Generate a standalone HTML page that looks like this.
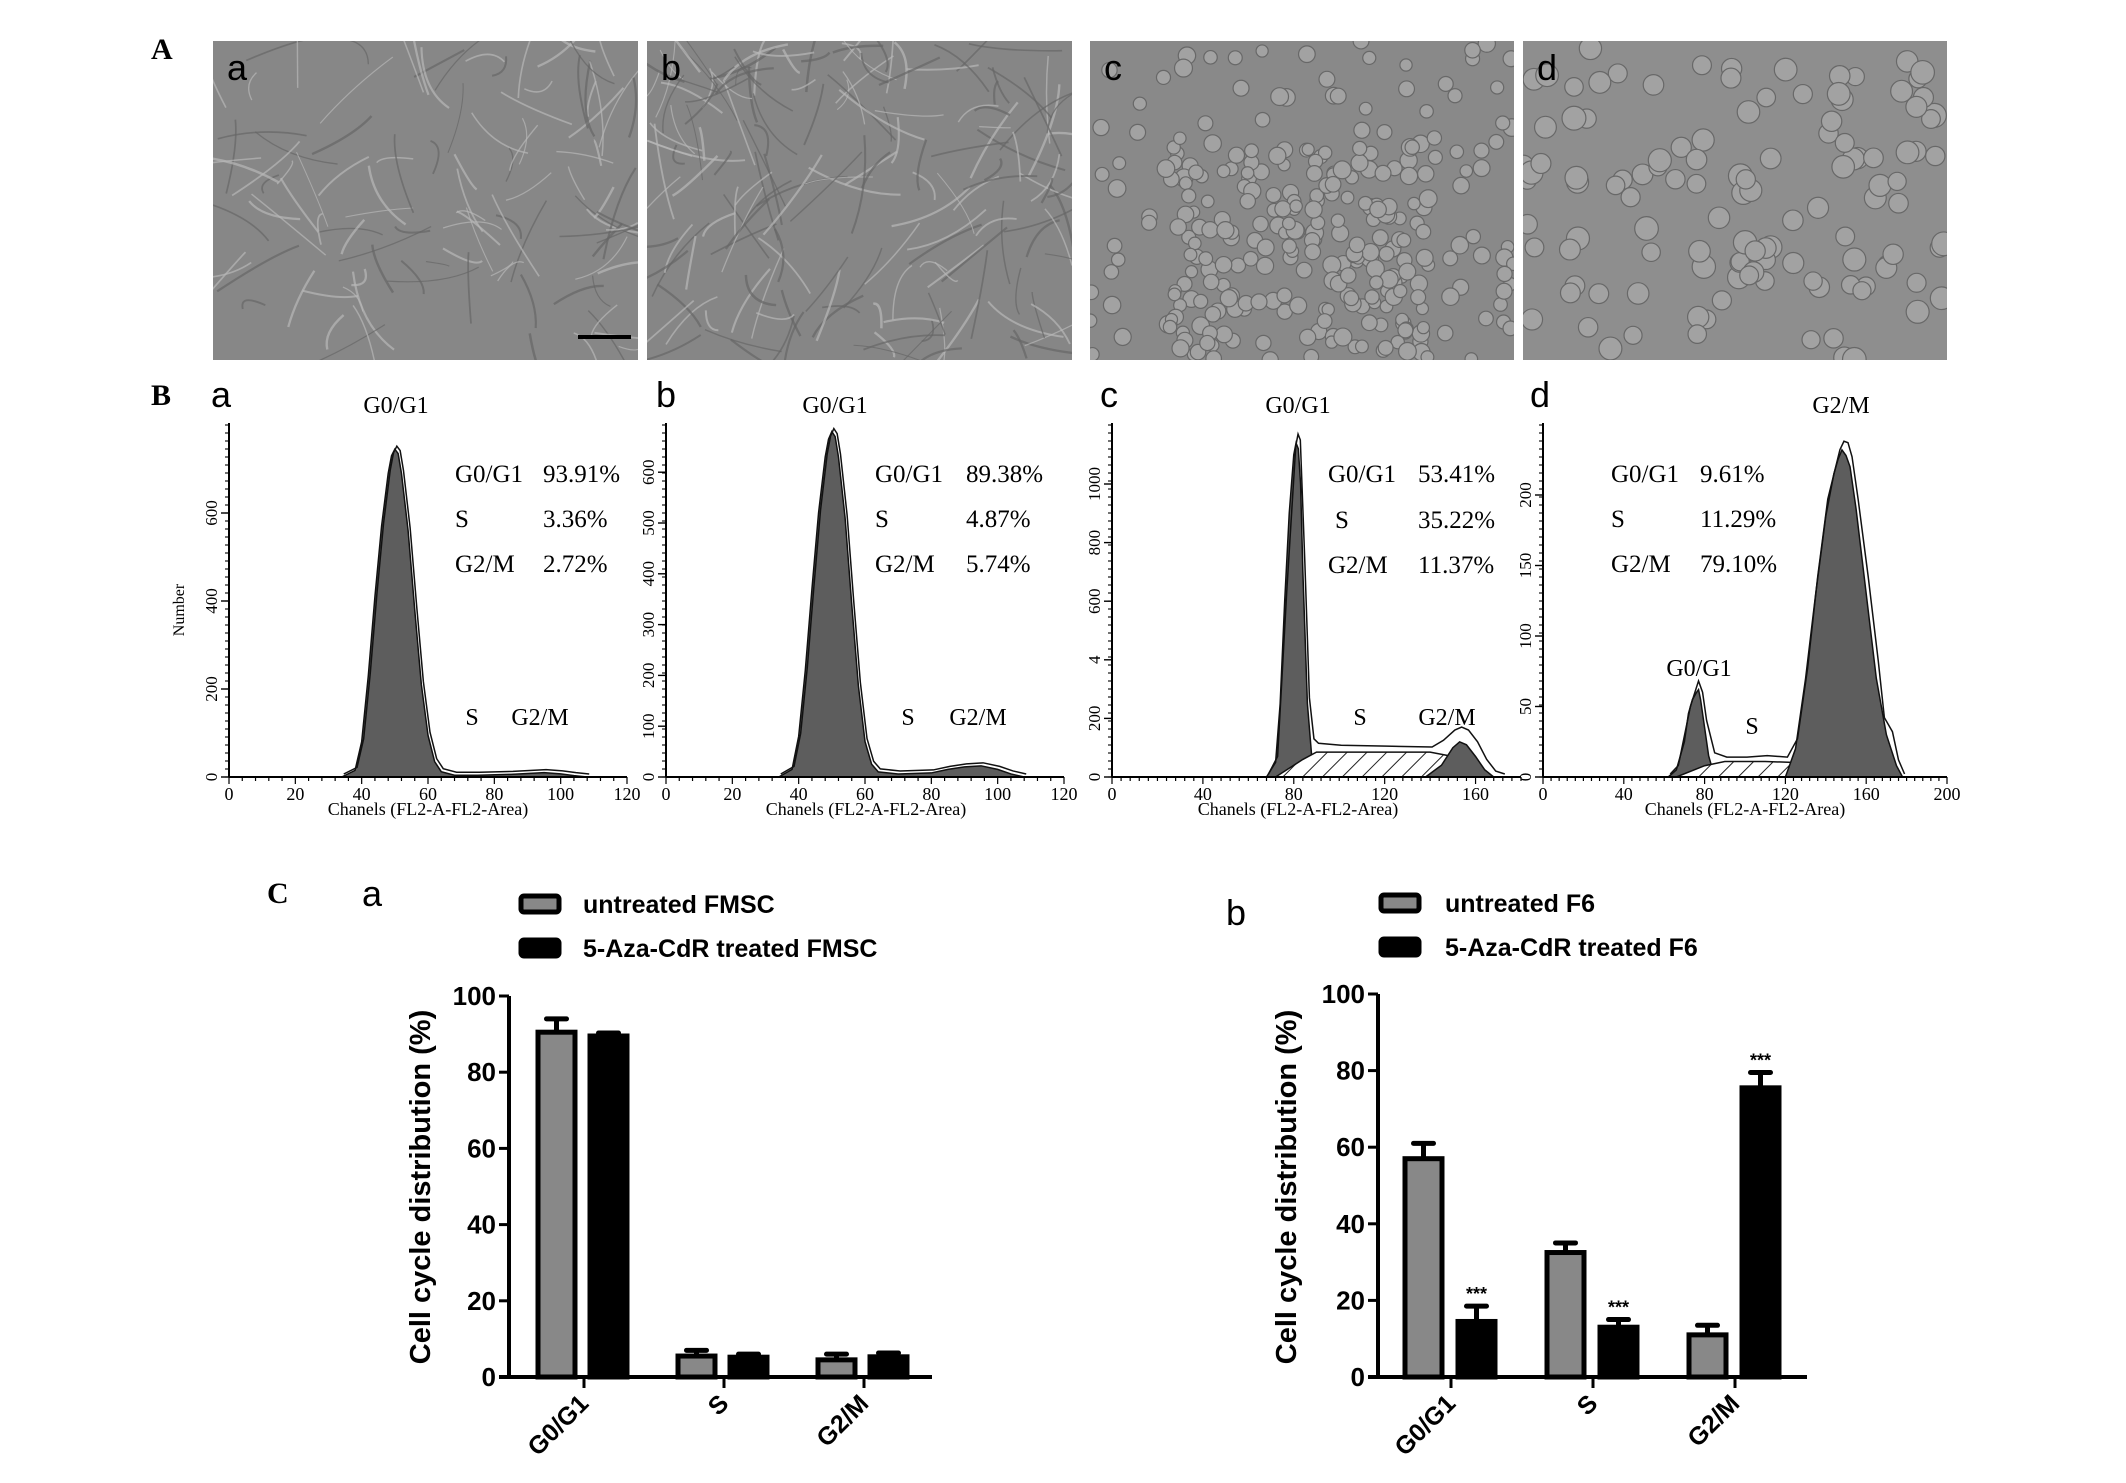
<!DOCTYPE html>
<html><head><meta charset="utf-8"><style>
html,body{margin:0;padding:0;background:#fff;}
svg{display:block;}
.serif{font-family:"Liberation Serif",serif;}
.sans{font-family:"Liberation Sans",sans-serif;}
</style></head><body>
<svg id="fig" xmlns="http://www.w3.org/2000/svg" width="2126" height="1483" viewBox="0 0 2126 1483">
<defs>
<pattern id="hatch" patternUnits="userSpaceOnUse" width="14" height="14" patternTransform="rotate(45)">
<rect width="14" height="14" fill="#fff"/><line x1="0" y1="0" x2="0" y2="14" stroke="#222" stroke-width="2"/>
</pattern>
</defs>
<g id="photos"></g>
<g id="hists"></g>
<g id="bars"></g>
<text x="151" y="59" class="serif" font-size="30" font-weight="bold">A</text>
<text x="151" y="405" class="serif" font-size="30" font-weight="bold">B</text>
<text x="267" y="903" class="serif" font-size="30" font-weight="bold">C</text>
</svg>
<script>
const NS='http://www.w3.org/2000/svg';
function el(parent,tag,attrs,text){const e=document.createElementNS(NS,tag);for(const k in attrs)e.setAttribute(k,attrs[k]);if(text!==undefined)e.textContent=text;parent.appendChild(e);return e;}

/* ---------- Histogram data (channel, count) ---------- */
const histA_ch=[34,38,40,42,44,46,48,49,50,51,52,54,56,58,60,62,64,68,75,85,90,95,100,104,108];
const histA_cnt=[0,15,80,230,410,570,690,730,745,735,690,560,380,210,95,35,12,4,4,6,8,10,7,3,0];
const histB_ch=[34,38,40,42,44,46,48,49,50,51,52,54,56,58,60,62,64,70,80,85,90,95,100,104,108];
const histB_cnt=[0,15,80,210,370,520,630,665,680,670,630,510,340,180,70,25,10,6,8,15,20,22,15,6,0];
const histC_g1_ch=[68,72,74,76,78,80,81,82,83,84,86,88,90];
const histC_g1_cnt=[0,50,250,600,900,1100,1140,1120,1000,700,250,60,0];
const histC_s_ch=[72,84,90,140,150,160,168];
const histC_s_cnt=[0,60,85,85,70,25,0];
const histC_g2_ch=[138,145,150,153,156,160,164,168];
const histC_g2_cnt=[0,40,100,120,110,70,25,0];
const histC_tot_ch=[68,72,76,80,81,82,84,86,88,90,100,120,140,145,150,153,156,160,164,168,172];
const histC_tot_cnt=[0,60,620,1120,1160,1140,720,260,120,105,98,95,92,115,150,160,150,110,50,10,0];
const histD_g1_ch=[62,66,70,72,74,76,77,78,80,82,84,86];
const histD_g1_cnt=[0,5,25,45,55,60,62,55,35,15,5,0];
const histD_s_ch=[66,80,90,110,130,145,150];
const histD_s_cnt=[0,8,11,11,10,5,0];
const histD_g2_ch=[120,125,130,135,140,144,146,148,150,152,155,160,165,170,175,178];
const histD_g2_cnt=[0,20,70,130,185,215,225,232,228,220,190,130,70,30,8,0];
const histD_tot_ch=[62,66,72,76,78,80,84,90,100,110,120,125,130,135,140,146,148,150,152,155,160,165,168,170,172,175,178];
const histD_tot_cnt=[0,6,48,66,58,38,15,12,12,13,12,25,75,140,195,230,236,235,225,195,140,80,40,35,30,10,0];
const histA_xt=[0,20,40,60,80,100,120];
const histA_yt=[0,200,400,600];
const histB_yt=[0,100,200,300,400,500,600];
const histC_xt=[0,40,80,120,160];
const histC_yt=[0,200,400,600,800,1000];
const histC_ytl=['0','200','4','600','800','1000'];
const histD_xt=[0,40,80,120,160,200];
const histD_yt=[0,50,100,150,200];

/* ---------- Bar chart data ---------- */
const barCats=['G0/G1','S','G2/M'];
const fmscUntreated=[90.5,5.5,4.5];
const fmscUntreatedErr=[3.5,1.5,1.5];
const fmscTreated=[89.5,5.2,5.3];
const fmscTreatedErr=[0.8,0.8,1.0];
const f6Untreated=[57,32.5,11];
const f6UntreatedErr=[4,2.5,2.5];
const f6Treated=[14.5,13,75.5];
const f6TreatedErr=[4,2,4];
const f6Sig=['***','***','***'];
const barYTicks=[0,20,40,60,80,100];

/* ---------- Micrographs (texture only) ---------- */
let seed=12345;function rnd(){seed=(seed*16807)%2147483647;return seed/2147483647;}
const photos=document.getElementById('photos');
const PY=41,PH=319;
const photoCfg=[{x:213,w:425,lab:'a',type:'fib',bg:'#878787'},{x:647,w:425,lab:'b',type:'fib',bg:'#868686'},{x:1090,w:424,lab:'c',type:'round',bg:'#898989'},{x:1523,w:424,lab:'d',type:'round2',bg:'#8e8e8e'}];
photoCfg.forEach((p,i)=>{
  const g=el(photos,'g',{});
  
  
  el(g,'rect',{x:p.x,y:PY,width:p.w,height:PH,fill:p.bg});
  const cp=el(g,'clipPath',{id:'cp'+i});el(cp,'rect',{x:p.x,y:PY,width:p.w,height:PH});
  const t=el(g,'g',{'clip-path':'url(#cp'+i+')'});
  if(p.type==='fib'){
    const n=p.lab==='a'?110:170;
    for(let k=0;k<n;k++){const cx=p.x+rnd()*p.w,cy=PY+rnd()*PH,a=rnd()*Math.PI,l=20+rnd()*80;
      const dx=Math.cos(a)*l/2,dy=Math.sin(a)*l/2;
      el(t,'path',{d:`M${cx-dx},${cy-dy} Q${cx+(rnd()-0.5)*30},${cy+(rnd()-0.5)*30} ${cx+dx},${cy+dy}`,fill:'none',stroke:rnd()<0.5?'#b8b8b8':'#666','stroke-width':1+rnd()*1.5,opacity:0.7});}
  } else {
    const n=p.lab==='c'?300:120, r0=p.lab==='c'?6:9;
    for(let k=0;k<n;k++){let cx=p.x+rnd()*p.w,cy=PY+rnd()*PH;
      if(p.lab==='c'&&rnd()<0.5){cx=p.x+80+rnd()*260;cy=140+rnd()*220;}
      const r=r0+rnd()*3;
      el(t,'circle',{cx,cy,r,fill:'#a2a2a2',stroke:'#686868','stroke-width':1.2});}
  }
  if(i===0){el(g,'rect',{x:578,y:335,width:53,height:4,fill:'#000'});}
  const lt=el(g,'text',{x:p.x+14,y:80,class:'sans','font-size':36,fill:'#000'},p.lab);
  
  
});

/* ---------- Histograms ---------- */
const HY0=777,HTOP=423;
const hists=document.getElementById('hists');
function polyPts(ch,cnt,X,Y){return ch.map((c,i)=>X(c)+','+Y(cnt[i])).join(' ');}
function drawHist(cfg){
  const g=el(hists,'g',{});
  
  
  const X=v=>cfg.x0+v/cfg.xmax*(cfg.x1-cfg.x0);
  const Y=v=>HY0-v*cfg.ys;
  cfg.layers.forEach(L=>{
    const p=el(g,'polygon',{points:polyPts(L.ch,L.cnt,X,Y),fill:L.fill,stroke:'#111','stroke-width':1.5});
    
    
  });
  const ol=el(g,'polyline',{points:polyPts(cfg.oc,cfg.on,X,Y),fill:'none',stroke:'#111','stroke-width':1.5,transform:'translate(2,-3)'});
  
  
  el(g,'line',{x1:cfg.x0,y1:HY0,x2:cfg.x1,y2:HY0,stroke:'#000','stroke-width':2});
  el(g,'line',{x1:cfg.x0,y1:HTOP,x2:cfg.x0,y2:HY0,stroke:'#000','stroke-width':2});
  for(let v=0;v<=cfg.xmax;v+=cfg.minor){const big=cfg.xt.includes(v);el(g,'line',{x1:X(v),y1:HY0,x2:X(v),y2:HY0+(big?7:4),stroke:'#000','stroke-width':1.2});}
  for(let yy=HY0;yy>=HTOP;yy-=8){el(g,'line',{x1:cfg.x0-4,y1:yy,x2:cfg.x0,y2:yy,stroke:'#000','stroke-width':1.1});}
  cfg.xt.forEach(v=>{const t=el(g,'text',{x:X(v),y:HY0+23,'text-anchor':'middle',class:'serif','font-size':18},String(v));
    });
  cfg.yt.forEach((v,i)=>{const yy=Y(v);el(g,'line',{x1:cfg.x0-8,y1:yy,x2:cfg.x0,y2:yy,stroke:'#000','stroke-width':1.4});
    const t=el(g,'text',{x:cfg.x0-12,y:yy,'text-anchor':'middle',class:'serif','font-size':17,transform:`rotate(-90 ${cfg.x0-12} ${yy})`},cfg.ytl?cfg.ytl[i]:String(v));
    });
  const xl=el(g,'text',{x:cfg.xlc,y:HY0+38,'text-anchor':'middle',class:'serif','font-size':18},'Chanels (FL2-A-FL2-Area)');
  
  cfg.texts.forEach(T=>{const t=el(g,'text',{x:T[0],y:T[1],class:'serif','font-size':T[3]||25,'text-anchor':T[4]||'start'},T[2]);
    });
  const lb=el(g,'text',{x:cfg.labx,y:407,class:'sans','font-size':36},cfg.lab);
  
}
drawHist({lab:'a',labx:211,x0:229,x1:627,xmax:120,ys:0.44,minor:4,xt:histA_xt,yt:histA_yt,xlc:428,
  layers:[{ch:histA_ch,cnt:histA_cnt,fill:'#5d5d5d',name:'g0g1-peak'}],oc:histA_ch,on:histA_cnt,
  texts:[[396,413,'G0/G1',24,'middle'],[455,482,'G0/G1'],[543,482,'93.91%'],[455,527,'S'],[543,527,'3.36%'],[455,572,'G2/M'],[543,572,'2.72%'],[472,725,'S',24,'middle'],[540,725,'G2/M',24,'middle']]});
drawHist({lab:'b',labx:656,x0:666,x1:1064,xmax:120,ys:0.508,minor:4,xt:histA_xt,yt:histB_yt,xlc:866,
  layers:[{ch:histB_ch,cnt:histB_cnt,fill:'#5d5d5d',name:'g0g1-peak'}],oc:histB_ch,on:histB_cnt,
  texts:[[835,413,'G0/G1',24,'middle'],[875,482,'G0/G1'],[966,482,'89.38%'],[875,527,'S'],[966,527,'4.87%'],[875,572,'G2/M'],[966,572,'5.74%'],[908,725,'S',24,'middle'],[978,725,'G2/M',24,'middle']]});
drawHist({lab:'c',labx:1100,x0:1112,x1:1521,xmax:180,ys:0.293,minor:4,xt:histC_xt,yt:histC_yt,ytl:histC_ytl,xlc:1298,
  layers:[{ch:histC_g1_ch,cnt:histC_g1_cnt,fill:'#5d5d5d',name:'g0g1-peak'},{ch:histC_s_ch,cnt:histC_s_cnt,fill:'url(#hatch)',name:'s-phase-area'},{ch:histC_g2_ch,cnt:histC_g2_cnt,fill:'#5d5d5d',name:'g2m-peak'}],oc:histC_tot_ch,on:histC_tot_cnt,
  texts:[[1298,413,'G0/G1',24,'middle'],[1328,482,'G0/G1'],[1418,482,'53.41%'],[1335,528,'S'],[1418,528,'35.22%'],[1328,573,'G2/M'],[1418,573,'11.37%'],[1360,725,'S',24,'middle'],[1447,725,'G2/M',24,'middle']]});
drawHist({lab:'d',labx:1530,x0:1543,x1:1947,xmax:200,ys:1.41,minor:4,xt:histD_xt,yt:histD_yt,xlc:1745,
  layers:[{ch:histD_g1_ch,cnt:histD_g1_cnt,fill:'#5d5d5d',name:'g0g1-peak'},{ch:histD_s_ch,cnt:histD_s_cnt,fill:'url(#hatch)',name:'s-phase-area'},{ch:histD_g2_ch,cnt:histD_g2_cnt,fill:'#5d5d5d',name:'g2m-peak'}],oc:histD_tot_ch,on:histD_tot_cnt,
  texts:[[1841,413,'G2/M',24,'middle'],[1611,482,'G0/G1'],[1700,482,'9.61%'],[1611,527,'S'],[1700,527,'11.29%'],[1611,572,'G2/M'],[1700,572,'79.10%'],[1699,676,'G0/G1',24,'middle'],[1752,734,'S',24,'middle']]});
{const t=el(hists,'text',{x:184,y:610,class:'serif','font-size':16,'text-anchor':'middle',transform:'rotate(-90 184 610)'},'Number');
 }

/* ---------- Bar charts ---------- */
const BY0=1377;
const bars=document.getElementById('bars');
function drawBars(cfg){
  const g=el(bars,'g',{});
  
  
  const Y=v=>BY0-v*cfg.ys;
  const CX=i=>cfg.c0+i*cfg.step;
  [['#888','untreated '+cfg.name,cfg.ly1],['#000','5-Aza-CdR treated '+cfg.name,cfg.ly1+44]].forEach((L,i)=>{
    const r=el(g,'rect',{x:cfg.legx+2,y:L[2]-8,width:38,height:16,rx:3,fill:L[0],stroke:'#000','stroke-width':5});
    
    const t=el(g,'text',{x:cfg.tx,y:L[2]+9,class:'sans','font-size':25,'font-weight':'bold'},L[1]);
    
  });
  const lb=el(g,'text',{x:cfg.labx,y:cfg.laby,class:'sans','font-size':36},cfg.lab);
  
  barCats.forEach((c,i)=>{
    [[cfg.un,cfg.unE,cfg.gOff,'#888','untreated'],[cfg.tr,cfg.trE,cfg.bOff,'#000','treated']].forEach(S=>{
      const v=S[0][i],e=S[1][i],x=CX(i)+S[2],w=37;
      const ex=x+w/2;
      el(g,'line',{x1:ex,y1:Y(v),x2:ex,y2:Y(v+e),stroke:'#000','stroke-width':5});
      el(g,'line',{x1:ex-10,y1:Y(v+e),x2:ex+10,y2:Y(v+e),stroke:'#000','stroke-width':5,'stroke-linecap':'round'});
      const r=el(g,'rect',{x:x,y:Y(v),width:w,height:Y(0)-Y(v),fill:S[3],stroke:'#000','stroke-width':5});
      
      
      if(cfg.sig&&S[4]==='treated'){const t=el(g,'text',{x:ex,y:Y(v+e)-6,'text-anchor':'middle',class:'sans','font-size':18,'font-weight':'bold'},cfg.sig[i]);
        }
    });
    el(g,'line',{x1:CX(i),y1:BY0,x2:CX(i),y2:BY0+11,stroke:'#000','stroke-width':3});
    const t=el(g,'text',{x:CX(i)+6,y:BY0+28,'text-anchor':'end',class:'sans','font-size':25,'font-weight':'bold',transform:`rotate(-45 ${CX(i)+6} ${BY0+28})`},c);
    
  });
  el(g,'line',{x1:cfg.ax,y1:Y(100),x2:cfg.ax,y2:BY0+1,stroke:'#000','stroke-width':4});
  el(g,'line',{x1:cfg.ax-10,y1:BY0,x2:cfg.xr,y2:BY0,stroke:'#000','stroke-width':4});
  barYTicks.forEach(v=>{el(g,'line',{x1:cfg.ax-10,y1:Y(v),x2:cfg.ax,y2:Y(v),stroke:'#000','stroke-width':3});
    const t=el(g,'text',{x:cfg.ax-13,y:Y(v)+9,'text-anchor':'end',class:'sans','font-size':26,'font-weight':'bold'},String(v));
    });
  const yl=el(g,'text',{x:cfg.ylx,y:1187,'text-anchor':'middle',class:'sans','font-size':29,'font-weight':'bold',transform:`rotate(-90 ${cfg.ylx} 1187)`},'Cell cycle distribution (%)');
  
}
drawBars({lab:'a',labx:362,laby:906,name:'FMSC',legx:519,tx:583,ly1:904,ys:3.81,ax:509,xr:932,c0:584,step:140,gOff:-46,bOff:6,
  un:fmscUntreated,unE:fmscUntreatedErr,tr:fmscTreated,trE:fmscTreatedErr,ylx:430});
drawBars({lab:'b',labx:1226,laby:925,name:'F6',legx:1379,tx:1445,ly1:903,ys:3.83,ax:1378,xr:1807,c0:1451,step:142,gOff:-46,bOff:7,
  un:f6Untreated,unE:f6UntreatedErr,tr:f6Treated,trE:f6TreatedErr,sig:f6Sig,ylx:1296});
</script>
</body></html>
